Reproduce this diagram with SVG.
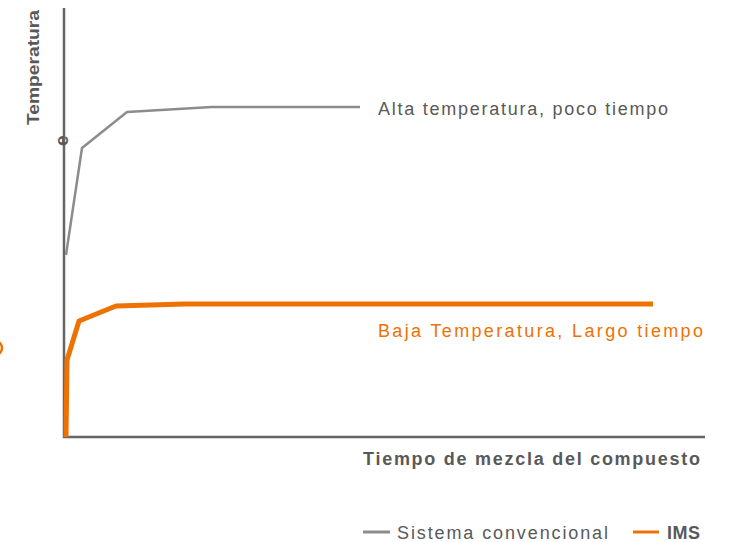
<svg xmlns="http://www.w3.org/2000/svg" width="729" height="542" viewBox="0 0 729 542">
<style>
.t{font-family:"Liberation Sans",Arial,sans-serif;font-size:18px;fill:#595959}
.b{font-weight:bold}
.o{fill:#EE7203}
.ax{stroke:#666;stroke-width:2.5;fill:none}
.g{stroke:#8c8c8c;stroke-width:2.5;fill:none;stroke-linejoin:round}
.or{stroke:#EE7203;stroke-width:5;fill:none;stroke-linejoin:round}
</style>
<rect width="729" height="542" fill="#fff"/>
<g id="axes">
<path class="ax" d="M64,8 V437 H705"/>
</g>
<g id="connectors">
<polyline class="g" points="66,255 82,148 127,112 212,107 360,107"/>
<polyline class="or" points="66,437 67,360 79,321 116,306 185,304 653,304"/>
</g>
<circle cx="-5" cy="348" r="7" fill="none" stroke="#EE7203" stroke-width="2.5"/>
<g id="ylabel">
<text class="t b" style="font-size:17px" transform="translate(39,125) rotate(-90)" textLength="115" lengthAdjust="spacingAndGlyphs">Temperatura</text>
<text class="t b" style="font-size:19px" transform="translate(68,146) rotate(-90)">e</text>
</g>
<g id="label-alta">
<text class="t" x="378" y="115" textLength="290" lengthAdjust="spacing">Alta temperatura, poco tiempo</text>
</g>
<g id="label-baja">
<text class="t o" x="378" y="337" textLength="325" lengthAdjust="spacing">Baja Temperatura, Largo tiempo</text>
</g>
<g id="xlabel">
<text class="t b" x="363" y="465" textLength="337" lengthAdjust="spacing">Tiempo de mezcla del compuesto</text>
</g>
<g id="legend">
<rect x="363" y="530.5" width="27" height="3" fill="#8c8c8c"/>
<text class="t" x="397" y="539" textLength="211" lengthAdjust="spacing">Sistema convencional</text>
<rect x="633" y="530.5" width="26" height="3" fill="#EE7203"/>
<text class="t b" x="667" y="539" textLength="33" lengthAdjust="spacing">IMS</text>
</g>
</svg>
